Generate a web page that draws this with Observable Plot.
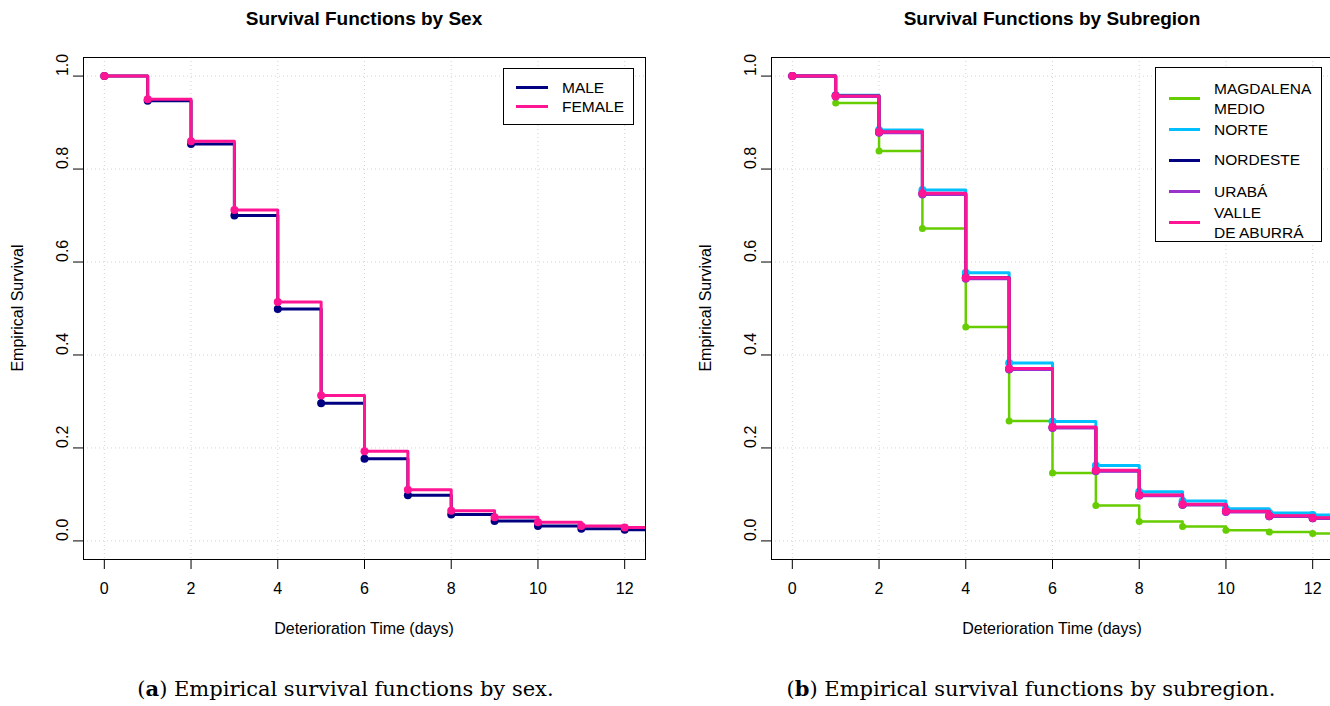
<!DOCTYPE html>
<html><head><meta charset="utf-8">
<script src="https://cdn.jsdelivr.net/npm/d3@7"></script>
<script src="https://cdn.jsdelivr.net/npm/@observablehq/plot@0.6"></script>
<style>
html,body{margin:0;padding:0;background:#fff;overflow:hidden;}
#page{position:relative;width:1330px;height:706px;overflow:hidden;font-family:"Liberation Sans",Arial,sans-serif;color:#000;}
.abs{position:absolute;white-space:nowrap;line-height:1;}
.c{transform:translate(-50%,-50%);}
.l{transform:translate(0,-50%);}
.box{position:absolute;border:1px solid #000;box-sizing:border-box;background:#fff;}
.sw{position:absolute;height:3px;}
svg{position:absolute;top:0;}
</style></head><body><div id="page"></div>
<script>
// ---------- data ----------
const times = [0,1,2,3,4,5,6,7,8,9,10,11,12];
const xTicks = [0,2,4,6,8,10,12];
const yTicks = [0,0.2,0.4,0.6,0.8,1.0];

const sexNames = ["MALE","FEMALE"];
const sexColors = ["#000080","#FF1493"];
const maleS   = [1.000,0.947,0.854,0.700,0.499,0.296,0.177,0.098,0.057,0.043,0.032,0.026,0.024];
const femaleS = [1.000,0.950,0.860,0.712,0.514,0.313,0.193,0.110,0.065,0.051,0.040,0.032,0.029];

const regionNames = ["MAGDALENA\nMEDIO","NORTE","NORDESTE","URABÁ","VALLE\nDE ABURRÁ"];
const regionColors = ["#66CD00","#00BFFF","#000080","#9932CC","#FF1493"];
const magdalenaS = [1.000,0.942,0.839,0.672,0.460,0.258,0.146,0.076,0.042,0.031,0.023,0.019,0.016];
const norteS     = [1.000,0.959,0.884,0.755,0.577,0.383,0.257,0.162,0.106,0.086,0.069,0.060,0.056];
const nordesteS  = [1.000,0.957,0.879,0.747,0.566,0.370,0.244,0.151,0.098,0.078,0.063,0.053,0.049];
const urabaS     = [1.000,0.956,0.878,0.745,0.564,0.369,0.243,0.150,0.097,0.078,0.062,0.053,0.049];
const valleS     = [1.000,0.957,0.880,0.748,0.566,0.371,0.245,0.152,0.099,0.079,0.064,0.054,0.050];

const titles = ["Survival Functions by Sex","Survival Functions by Subregion"];
const xLabel = "Deterioration Time (days)";
const yLabel = "Empirical Survival";
const captions = [["a"," Empirical survival functions by sex."],["b"," Empirical survival functions by subregion."]];

// ---------- layout ----------
const page = document.getElementById("page");
const W = 665, H = 660, ML = 83, MR = 20, MT = 57, MB = 101;
const xMin = -0.04*12, xMax = 12 + 0.04*12;

function panel(seriesList, colors, widths, radii, offsetX) {
  const marks = [
    Plot.gridX(xTicks, {stroke:"#D3D3D3", strokeOpacity:1, strokeDasharray:"1,3"}),
    Plot.gridY(yTicks, {stroke:"#D3D3D3", strokeOpacity:1, strokeDasharray:"1,3"}),
    Plot.axisX({ticks:xTicks, tickSize:10, tickPadding:13, fontSize:16, label:null}),
    Plot.axisY({ticks:yTicks, tickSize:10, tickFormat:()=>"", label:null}),
    Plot.text(yTicks, {y:d=>d, text:d=>d3.format(".1f")(d), frameAnchor:"left", dx:-21, rotate:-90, fontSize:16, fill:"#000"})
  ];
  seriesList.forEach((vals, k) => {
    const pts = times.map((t,i)=>({t, s:vals[i]}));
    const stepPts = pts.concat([{t:xMax, s:vals[vals.length-1]}]);
    marks.push(Plot.line(stepPts, {x:"t", y:"s", curve:"step-after", stroke:colors[k], strokeWidth:widths[k], clip:true}));
    marks.push(Plot.dot(pts, {x:"t", y:"s", r:radii[k], fill:colors[k], stroke:"none"}));
  });
  marks.push(Plot.frame({stroke:"#000", strokeWidth:1}));
  const svg = Plot.plot({
    width:W, height:H, marginLeft:ML, marginRight:MR, marginTop:MT, marginBottom:MB,
    x:{domain:[xMin,xMax]}, y:{domain:[-0.04,1.04]},
    style:{fontFamily:'"Liberation Sans",Arial,sans-serif', fontSize:"16px", color:"#000", background:"transparent", overflow:"visible"},
    marks
  });
  svg.style.left = offsetX + "px";
  page.appendChild(svg);
}

function txt(s, x, y, cls, css) {
  const d = document.createElement("div");
  d.className = "abs " + cls;
  d.style.left = x + "px"; d.style.top = y + "px";
  Object.assign(d.style, css || {});
  d.textContent = s;
  page.appendChild(d);
  return d;
}

panel([maleS, femaleS], sexColors, [3,3], [4,4], 0);
panel([magdalenaS, norteS, nordesteS, urabaS, valleS], regionColors, [2.5,3,3,3,3], [3.5,4,4,4,4], 688);

[0, 688].forEach((ox, i) => {
  const cx = ox + (ML + (W - MR)) / 2;
  txt(titles[i], cx, 17.5, "c", {fontSize:"19px", fontWeight:"bold"});
  txt(xLabel, cx, 629, "c", {fontSize:"16px"});
  const yl = txt(yLabel, ox + 18, 308, "", {fontSize:"16px"});
  yl.style.transform = "translate(-50%,-50%) rotate(-90deg)";
  const cap = document.createElement("div");
  cap.className = "abs c";
  cap.style.left = [345.5, 1031][i] + "px"; cap.style.top = "689px";
  cap.style.fontFamily = '"DejaVu Serif",serif'; cap.style.fontSize = "21px";
  cap.innerHTML = "(<b>" + captions[i][0] + "</b>)" + captions[i][1];
  page.appendChild(cap);
});

// ---------- legends ----------
function legendBox(x, y, w, h) {
  const b = document.createElement("div");
  b.className = "box";
  Object.assign(b.style, {left:x+"px", top:y+"px", width:w+"px", height:h+"px"});
  page.appendChild(b);
}
function swatch(x, y, w, color) {
  const s = document.createElement("div");
  s.className = "sw";
  Object.assign(s.style, {left:x+"px", top:(y-1.5)+"px", width:w+"px", background:color});
  page.appendChild(s);
}
// sex legend
legendBox(503, 68, 131, 57);
const sexRows = [87, 106];
sexNames.forEach((n,i)=>{
  swatch(516, sexRows[i], 32, sexColors[i]);
  txt(n, 562, sexRows[i]+0.5, "l", {fontSize:"15.5px"});
});
// region legend
legendBox(1155, 67, 167, 175);
const regLineY = [98.5, 129.5, 160, 191.5, 222.5];
regionNames.forEach((n,i)=>{
  swatch(1169, regLineY[i], 31, regionColors[i]);
  const lines = n.split("\n");
  lines.forEach((ln, j)=>{
    const yy = lines.length === 1 ? regLineY[i] : regLineY[i] + (j - 0.5) * 20;
    txt(ln, 1214, yy, "l", {fontSize:"15.5px"});
  });
});
</script></body></html>
